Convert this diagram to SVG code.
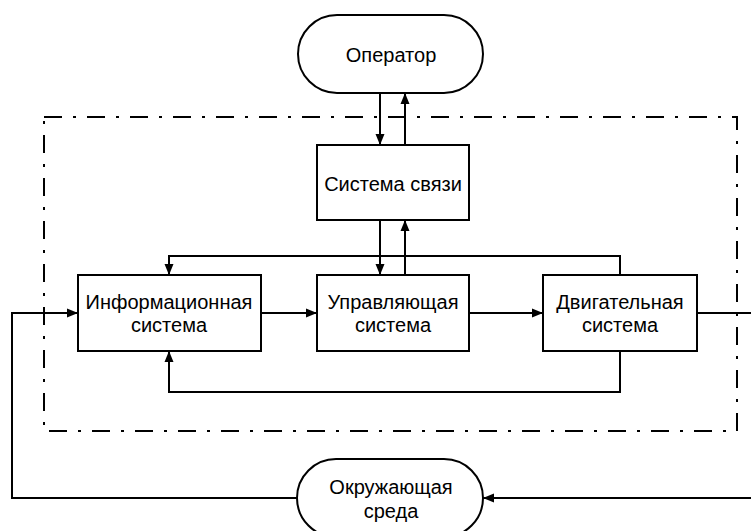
<svg xmlns="http://www.w3.org/2000/svg" width="751" height="531" viewBox="0 0 751 531">
<style>
.n{fill:#fff;stroke:#000;stroke-width:2}
.t{font-family:"Liberation Sans",Arial,sans-serif;font-size:20px;fill:#000;text-anchor:middle}
.c{fill:none;stroke:#000;stroke-width:2}
.f{fill:none;stroke:#000;stroke-width:2;stroke-dasharray:18 11 3 11}
</style>
<defs>
<marker id="a" markerWidth="12" markerHeight="10" refX="11" refY="5" orient="auto" markerUnits="userSpaceOnUse">
<path d="M0,0.5 L11,5 L0,9.5 Z" fill="#000"/>
</marker>
</defs>
<rect class="f" x="44" y="117" width="693" height="314"/>
<g id="connectors">
<path class="c" d="M380,93 V145" marker-end="url(#a)"/>
<path class="c" d="M405,145 V93" marker-end="url(#a)"/>
<path class="c" d="M380,220 V275" marker-end="url(#a)"/>
<path class="c" d="M405,275 V220" marker-end="url(#a)"/>
<path class="c" d="M261,313 H317" marker-end="url(#a)"/>
<path class="c" d="M469,313 H543" marker-end="url(#a)"/>
<path class="c" d="M620,275 V256 H169 V275" marker-end="url(#a)"/>
<path class="c" d="M620,351 V392 H169 V351" marker-end="url(#a)"/>
<path class="c" d="M697,313 H753 V498 H483" marker-end="url(#a)"/>
<path class="c" d="M297,498 H12 V313 H78" marker-end="url(#a)"/>
</g>
<g id="operator">
<rect class="n" x="298" y="15" width="185" height="78" rx="39" ry="39"/>
<text class="t" x="391" y="62">Оператор</text>
</g>
<g id="comm">
<rect class="n" x="317" y="145" width="152" height="75"/>
<text class="t" x="393" y="191">Система связи</text>
</g>
<g id="info">
<rect class="n" x="78" y="275" width="183" height="76"/>
<text class="t" x="169" y="309">Информационная</text>
<text class="t" x="169" y="332">система</text>
</g>
<g id="control">
<rect class="n" x="317" y="275" width="152" height="76"/>
<text class="t" x="393" y="309">Управляющая</text>
<text class="t" x="393" y="332">система</text>
</g>
<g id="motor">
<rect class="n" x="543" y="275" width="154" height="76"/>
<text class="t" x="620" y="309">Двигательная</text>
<text class="t" x="620" y="332">система</text>
</g>
<g id="env">
<rect class="n" x="297" y="459" width="186" height="78" rx="39" ry="39"/>
<text class="t" x="391" y="494">Окружающая</text>
<text class="t" x="391" y="518">среда</text>
</g>
</svg>
